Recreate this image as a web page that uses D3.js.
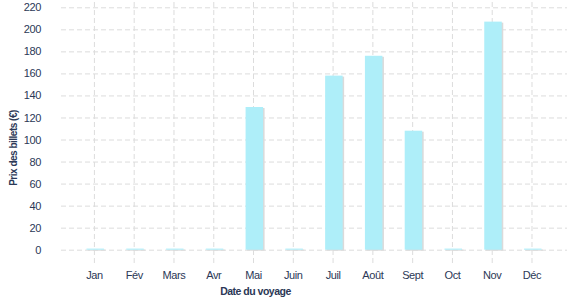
<!DOCTYPE html>
<html>
<head>
<meta charset="utf-8">
<script src="https://cdn.jsdelivr.net/npm/d3@7/dist/d3.min.js"></script>
<style>
  body { margin: 0; background: #fff; }
  text { font-family: "Liberation Sans", Arial, sans-serif; fill: #2b3856; }
</style>
</head>
<body>
<svg width="577" height="300"></svg>
<script>
// data
var months = ['Jan', 'Fév', 'Mars', 'Avr', 'Mai', 'Juin', 'Juil', 'Août', 'Sept', 'Oct', 'Nov', 'Déc'];
var prices = [1, 1, 1, 1, 129.5, 1, 158, 176, 108, 1, 207, 1];
var yTicks = [0, 20, 40, 60, 80, 100, 120, 140, 160, 180, 200, 220];

var svg = d3.select('svg');

var x = d3.scaleBand()
    .domain(months)
    .range([61, 567])
    .paddingInner(0.56)
    .paddingOuter(0.64);

var y = d3.scaleLinear()
    .domain([0, 220])
    .range([249.7, 7.3]);

//horizontal grid + labels
var yAxis = svg.append('g')
    .attr('transform', 'translate(61,0)')
    .call(d3.axisLeft(y).tickValues(yTicks).tickSize(-506).tickPadding(20));
yAxis.select('.domain').remove();
yAxis.selectAll('line')
    .attr('stroke', '#dcdcdc')
    .attr('stroke-dasharray', '5,3');
yAxis.selectAll('text')
    .attr('font-size', 11)
    .attr('letter-spacing', -0.4)
    .attr('fill', '#2b3856');

//vertical grid + month labels
var xAxis = svg.append('g')
    .attr('transform', 'translate(-0.8,263)')
    .call(d3.axisBottom(x).tickSize(-263).tickPadding(8));
xAxis.select('.domain').remove();
xAxis.selectAll('line')
    .attr('stroke', '#dcdcdc')
    .attr('stroke-dasharray', '5,3');
xAxis.selectAll('text')
    .attr('font-size', 11)
    .attr('letter-spacing', -0.4)
    .attr('fill', '#2b3856');

//bars with a little shadow
var bars = svg.append('g');
bars.selectAll('rect.shadow')
    .data(prices)
    .enter().append('rect')
    .attr('class', 'shadow')
    .attr('x', function(d, i) { return x(months[i]) + 1.5; })
    .attr('y', function(d) { return y(d) + 1; })
    .attr('width', x.bandwidth())
    .attr('height', function(d) { return y(0) - y(d); })
    .attr('fill', '#dadada');
bars.selectAll('rect.bar')
    .data(prices)
    .enter().append('rect')
    .attr('class', 'bar')
    .attr('x', function(d, i) { return x(months[i]); })
    .attr('y', function(d) { return y(d); })
    .attr('width', x.bandwidth())
    .attr('height', function(d) { return y(0) - y(d); })
    .attr('fill', '#aeeef9');

//axis titles
svg.append('text')
    .attr('transform', 'translate(17,148) rotate(-90)')
    .attr('text-anchor', 'middle')
    .attr('font-size', 10)
    .attr('font-weight', 'bold')
    .attr('letter-spacing', -0.5)
    .attr('fill', '#1f2c4a')
    .text('Prix des billets (€)');

svg.append('text')
    .attr('x', 255.5)
    .attr('y', 295)
    .attr('text-anchor', 'middle')
    .attr('font-size', 10.5)
    .attr('font-weight', 'bold')
    .attr('letter-spacing', -0.5)
    .attr('fill', '#1f2c4a')
    .text('Date du voyage');
</script>
</body>
</html>
